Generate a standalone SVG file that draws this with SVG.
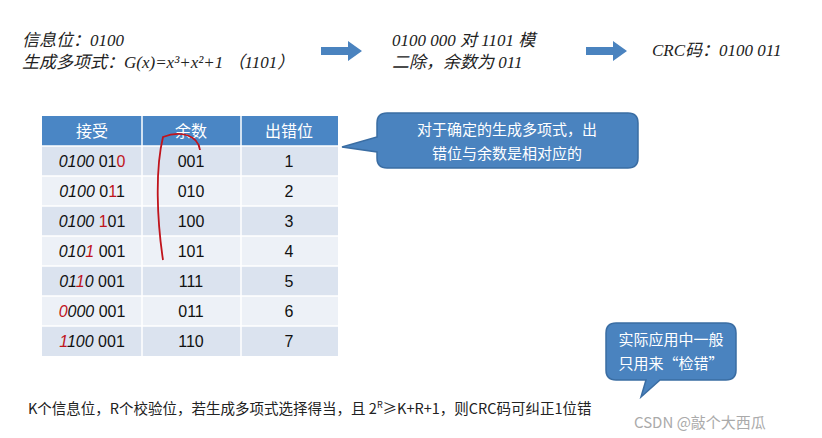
<svg xmlns="http://www.w3.org/2000/svg" width="822" height="438" viewBox="0 0 822 438">
<defs>
<style>
.t{font-family:"Liberation Serif","Noto Sans CJK SC",serif;font-style:italic;font-size:17px;fill:#222}
.c{font-family:"Liberation Sans","Noto Sans CJK SC",sans-serif;font-size:16px;fill:#111;text-anchor:middle}
.h{font-family:"Noto Sans CJK SC",sans-serif;font-size:16px;fill:#fff;text-anchor:middle}
.b{font-family:"Noto Sans CJK SC",sans-serif;font-size:15px;fill:#fff;text-anchor:middle}
.r{fill:#c0141c}
.a{fill:#dbe3ef}.l{fill:#edf1f7}
.call{fill:#4a83bf;stroke:#3a6da3;stroke-width:1.5}
.arr{fill:#4a83bf}
</style>
</defs>
<rect width="822" height="438" fill="#fff"/>
<g id="info">
<text class="t" x="22" y="46">信息位：0100</text>
<text class="t" x="22" y="68">生成多项式：G(x)=x³+x²+1 （1101）</text>
</g>
<g id="step2">
<text class="t" x="392" y="46">0100 000 对 1101 模</text>
<text class="t" x="392" y="68">二除，余数为 011</text>
</g>
<g id="crc"><text class="t" x="652" y="56">CRC码：0100 011</text></g>
<g id="table">
<rect x="42" y="116" width="296" height="30" fill="#4a86c5"/>
<rect class="a" x="42" y="146" width="296" height="30"/>
<rect class="l" x="42" y="176" width="296" height="30"/>
<rect class="a" x="42" y="206" width="296" height="30"/>
<rect class="l" x="42" y="236" width="296" height="30"/>
<rect class="a" x="42" y="266" width="296" height="30"/>
<rect class="l" x="42" y="296" width="296" height="30"/>
<rect class="a" x="42" y="326" width="296" height="30"/>
<g stroke="#fff" stroke-width="1.5">
<line x1="142" y1="116" x2="142" y2="356"/><line x1="241" y1="116" x2="241" y2="356"/>
<line x1="42" y1="146" x2="338" y2="146"/><line x1="42" y1="176" x2="338" y2="176"/><line x1="42" y1="206" x2="338" y2="206"/><line x1="42" y1="236" x2="338" y2="236"/><line x1="42" y1="266" x2="338" y2="266"/><line x1="42" y1="296" x2="338" y2="296"/><line x1="42" y1="326" x2="338" y2="326"/>
</g>
<text class="h" x="92" y="137">接受</text><text class="h" x="191" y="137">余数</text><text class="h" x="289" y="137">出错位</text>
<g class="c">
<text x="92" y="167"><tspan font-style="italic">0100</tspan> 01<tspan class="r">0</tspan></text>
<text x="92" y="197"><tspan font-style="italic">0100</tspan> 0<tspan class="r">1</tspan>1</text>
<text x="92" y="227"><tspan font-style="italic">0100</tspan> <tspan class="r">1</tspan>01</text>
<text x="92" y="257"><tspan font-style="italic">010<tspan class="r">1</tspan></tspan> 001</text>
<text x="92" y="287"><tspan font-style="italic">01<tspan class="r">1</tspan>0</tspan> 001</text>
<text x="92" y="317"><tspan font-style="italic"><tspan class="r">0</tspan>000</tspan> 001</text>
<text x="92" y="347"><tspan font-style="italic"><tspan class="r">1</tspan>100</tspan> 001</text>
<text x="191" y="167">001</text><text x="191" y="197">010</text><text x="191" y="227">100</text><text x="191" y="257">101</text><text x="191" y="287">111</text><text x="191" y="317">011</text><text x="191" y="347">110</text>
<text x="289" y="167">1</text><text x="289" y="197">2</text><text x="289" y="227">3</text><text x="289" y="257">4</text><text x="289" y="287">5</text><text x="289" y="317">6</text><text x="289" y="347">7</text>
</g>
</g>
<g id="connectors">
<polygon class="arr" points="321,47 348,47 348,41 362,51 348,61 348,55 321,55"/>
<polygon class="arr" points="586,47 613,47 613,41 627,51 613,61 613,55 586,55"/>
<path d="M200,150 C198,135 180,130 163,137 C155,170 157,220 163,260" fill="none" stroke="#c0141c" stroke-width="1.8"/>
</g>
<g id="callout1">
<path class="call" d="M387,113 H628 Q638,113 638,123 V158 Q638,168 628,168 H387 Q377,168 377,158 V152 L342,147 L377,137 V123 Q377,113 387,113 Z"/>
<text class="b" x="507" y="135">对于确定的生成多项式，出</text>
<text class="b" x="507" y="159">错位与余数是相对应的</text>
</g>
<g id="callout2">
<path class="call" d="M616,323 H726 Q736,323 736,333 V370 Q736,380 726,380 H660 L641,397 L646,380 H616 Q606,380 606,370 V333 Q606,323 616,323 Z"/>
<text class="b" x="671" y="345">实际应用中一般</text>
<text class="b" x="671" y="369">只用来“检错”</text>
</g>
<g id="note">
<text x="28" y="414" font-family="Noto Sans CJK SC,sans-serif" font-size="14.5" fill="#222">K个信息位，R个校验位，若生成多项式选择得当，且 2<tspan font-size="9" dy="-6">R</tspan><tspan dy="6">≥K+R+1，则CRC码可纠正1位错</tspan></text>
</g>
<text x="634" y="428" font-family="Noto Sans CJK SC,sans-serif" font-size="15" fill="#aaa">CSDN @敲个大西瓜</text>
</svg>
